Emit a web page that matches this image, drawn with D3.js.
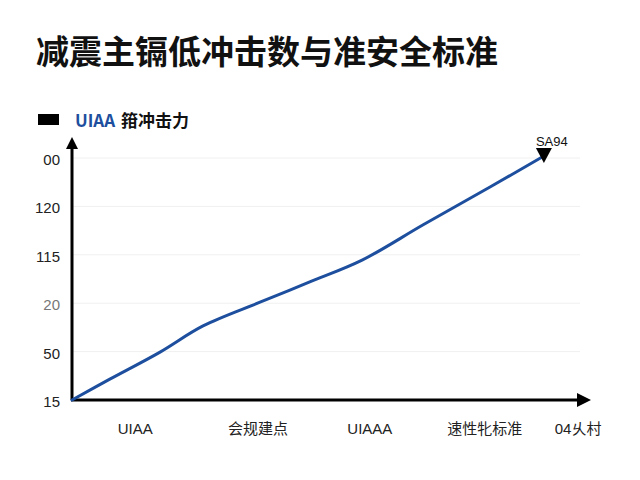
<!DOCTYPE html>
<html>
<head>
<meta charset="utf-8">
<script src="https://cdn.jsdelivr.net/npm/d3@7"></script>
<style>
  body { margin: 0; background: #fff; }
  text { font-family: "Liberation Sans", "Noto Sans CJK SC", sans-serif; }
  .cjk { font-family: "Noto Sans CJK SC", sans-serif; }
</style>
</head>
<body>
<svg id="chart" width="640" height="480"></svg>
<script>
// chart data
var title = "减震主镉低冲击数与准安全标准";
var seriesName = "UIAA";
var seriesSuffix = "箝冲击力";
var xCategories = ["UIAA", "会规建点", "UIAAA", "速性牝标准", "04乆村"];
var xCategoryPos = [12.2, 35.9, 57.5, 79.7, 97.7];
var yTickLabels = ["15", "50", "20", "115", "120", "00"];
var yTickPos = [0, 1, 2, 3, 4, 5];
var lineX = [0, 7.3, 17, 25.3, 36.3, 45.9, 56.0, 67.8, 80.7, 91.1];
var lineY = [0, 0.43, 0.99, 1.53, 2.02, 2.44, 2.89, 3.62, 4.40, 5.04];
var endLabel = "SA94";

var svg = d3.select("#chart");

var x = d3.scaleLinear().domain([0, 100]).range([72, 590]);
var y = d3.scaleLinear().domain([0, 5]).range([400, 158]);

// title
svg.append("text")
  .attr("class", "cjk")
  .attr("x", 36).attr("y", 64)
  .attr("font-size", 33).attr("font-weight", "bold")
  .attr("fill", "#111")
  .text(title);

// legend
svg.append("rect")
  .attr("x", 38).attr("y", 114).attr("width", 21).attr("height", 11)
  .attr("fill", "#000");
var leg = svg.append("text")
  .attr("class", "cjk")
  .attr("x", 75).attr("y", 127)
  .attr("font-size", 17).attr("font-weight", "bold");
leg.append("tspan").attr("fill", "#1d4f9e").text(seriesName);
leg.append("tspan").attr("dx", 6).attr("fill", "#111").text(seriesSuffix);

// grid lines
svg.append("g").selectAll("line")
  .data(yTickPos.slice(1))
  .enter().append("line")
    .attr("x1", 72).attr("x2", 580)
    .attr("y1", function(d) { return y(d); })
    .attr("y2", function(d) { return y(d); })
    .attr("stroke", "#f0f0f0").attr("stroke-width", 1);

// y tick labels
svg.append("g").selectAll("text")
  .data(yTickPos)
  .enter().append("text")
    .attr("x", 60)
    .attr("y", function(d) { return y(d) + 7; })
    .attr("text-anchor", "end")
    .attr("font-size", 15)
    .attr("fill", function(d, i) { return yTickLabels[i] == "20" ? "#777" : "#222"; })
    .text(function(d, i) { return yTickLabels[i]; });

// x category labels
svg.append("g").selectAll("text")
  .data(xCategoryPos)
  .enter().append("text")
    .attr("x", function(d) { return x(d); })
    .attr("y", 434)
    .attr("text-anchor", "middle")
    .attr("font-size", 15)
    .attr("fill", "#222")
    .text(function(d, i) { return xCategories[i]; });

// axes with arrows
svg.append("line")
  .attr("x1", 72).attr("y1", 400).attr("x2", 72).attr("y2", 146)
  .attr("stroke", "#000").attr("stroke-width", 3);
svg.append("path")
  .attr("d", "M72,137 L66,149 L78,149 Z").attr("fill", "#000");
svg.append("line")
  .attr("x1", 71).attr("y1", 400).attr("x2", 580).attr("y2", 400)
  .attr("stroke", "#000").attr("stroke-width", 3);
svg.append("path")
  .attr("d", "M591,400 L577,393 L577,407 Z").attr("fill", "#000");

// series line
var pts = lineX.map(function(d, i) { return [d, lineY[i]]; });
var line = d3.line()
  .x(function(d) { return x(d[0]); })
  .y(function(d) { return y(d[1]); })
  .curve(d3.curveCatmullRom.alpha(0.5));

svg.append("path")
  .datum(pts)
  .attr("d", line)
  .attr("fill", "none")
  .attr("stroke", "#1d4f9e")
  .attr("stroke-width", 3)
  .attr("stroke-linecap", "round")
  .attr("stroke-linejoin", "round");

// end marker
var last = pts[pts.length - 1];
var ex = x(last[0]), ey = y(last[1]);
svg.append("path")
  .attr("d", "M" + (ex - 8) + "," + (ey - 8) + " L" + (ex + 8) + "," + (ey - 8) + " L" + ex + "," + (ey + 7) + " Z")
  .attr("fill", "#000");
svg.append("text")
  .attr("x", ex - 8).attr("y", ey - 10)
  .attr("font-size", 13)
  .attr("fill", "#111")
  .text(endLabel);
</script>
</body>
</html>
